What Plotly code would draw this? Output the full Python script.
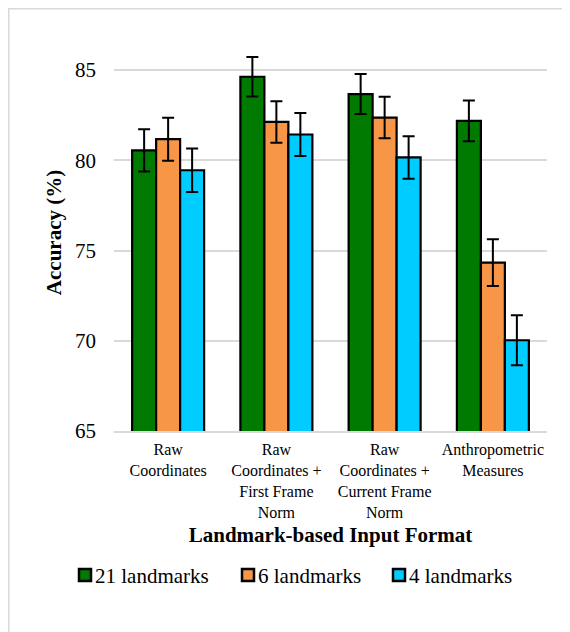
import plotly.graph_objects as go

categories = [
    "Raw<br>Coordinates",
    "Raw<br>Coordinates +<br>First Frame<br>Norm",
    "Raw<br>Coordinates +<br>Current Frame<br>Norm",
    "Anthropometric<br>Measures",
]
series_names = ["21 landmarks", "6 landmarks", "4 landmarks"]
acc_21 = [80.55, 84.63, 83.67, 82.19]
acc_6 = [81.17, 82.13, 82.37, 74.33]
acc_4 = [79.45, 81.43, 80.16, 70.03]
err_21 = [1.17, 1.10, 1.11, 1.13]
err_6 = [1.19, 1.15, 1.15, 1.30]
err_4 = [1.20, 1.19, 1.18, 1.38]
colors = ["#007A00", "#F79646", "#00CCFF"]
y_ticks = [65, 70, 75, 80, 85]

W, H = 570, 632
ml, mr, mt, mb = 106, 31, 26, 209

fig = go.Figure()
for name, vals, errs, col in zip(series_names, [acc_21, acc_6, acc_4],
                                 [err_21, err_6, err_4], colors):
    fig.add_trace(go.Bar(
        name=name, x=categories, y=vals,
        marker=dict(color=col, line=dict(color="black", width=2.2)),
        error_y=dict(type="data", array=errs, visible=True,
                     color="black", thickness=2, width=6),
        showlegend=False,
    ))

FF = "Liberation Serif"

pw = W - ml - mr
ph = H - mt - mb
def px_x(x):
    return (x - ml) / pw
def px_y(y):
    return (H - mb - y) / ph

# legend drawn as squares + labels (layout positions in pixels)
legend_sq_x = [70, 233, 384]
legend_y0, legend_y1 = 560, 574
shapes = []
annotations = []
for name, col, sx in zip(series_names, colors, legend_sq_x):
    shapes.append(dict(type="rect", xref="paper", yref="paper",
                       x0=px_x(sx + 1), x1=px_x(sx + 13),
                       y0=px_y(legend_y0 + 1), y1=px_y(legend_y1 - 1),
                       fillcolor=col, line=dict(color="black", width=2.5)))
    annotations.append(dict(text=name, xref="paper", yref="paper",
                            x=px_x(sx + 15), y=px_y(567.5), xanchor="left",
                            yanchor="middle", showarrow=False,
                            font=dict(size=21, family=FF, color="black")))

shapes += [
    dict(type="line", xref="paper", yref="paper",
         x0=px_x(0), x1=px_x(575), y0=px_y(0.5), y1=px_y(0.5),
         line=dict(color="#D9D9D9", width=2)),
    dict(type="line", xref="paper", yref="paper",
         x0=px_x(0.5), x1=px_x(0.5), y0=px_y(0), y1=px_y(640),
         line=dict(color="#D9D9D9", width=2)),
]

fig.update_layout(
    width=W, height=H,
    margin=dict(l=ml, r=mr, t=mt, b=mb),
    paper_bgcolor="white", plot_bgcolor="white",
    barmode="group", bargap=0.335, bargroupgap=0,
    font=dict(family=FF, color="black"),
    showlegend=False,
    xaxis=dict(
        tickfont=dict(size=16, family=FF, color="black"),
        title=dict(text="<b>Landmark-based Input Format</b>",
                   font=dict(size=21, family=FF, color="black"), standoff=8),
        showline=True, linecolor="#D9D9D9", linewidth=2,
        ticks="", showgrid=False, ticklabelstandoff=3,
    ),
    yaxis=dict(
        range=[65, 87], tickvals=y_ticks,
        tickfont=dict(size=21, family=FF, color="black"),
        title=dict(text="<b>Accuracy (%)</b>", font=dict(size=21, family=FF, color="black"),
                   standoff=7),
        showgrid=True, gridcolor="#D9D9D9", gridwidth=1.5,
        zeroline=False, showline=False, ticks="",
        ticklabelstandoff=17,
    ),
    shapes=shapes,
    annotations=annotations,
)

fig.write_html("out.html")
